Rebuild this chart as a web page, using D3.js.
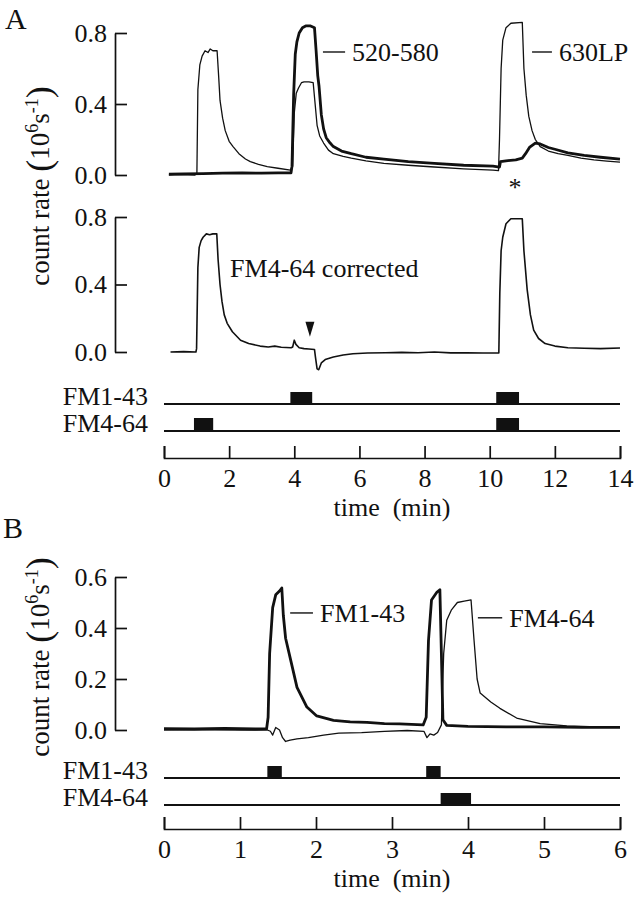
<!DOCTYPE html>
<html>
<head>
<meta charset="utf-8">
<script src="https://cdn.jsdelivr.net/npm/d3@7"></script>
<style>
  body { margin: 0; background: #fff; }
  text { font-family: "Liberation Serif", "Times New Roman", serif; fill: #111; }
</style>
</head>
<body>
<svg id="chart" width="635" height="899"></svg>
<script>
// ---- data (time in min, count rate in 10^6 s^-1) ----

// Panel A, top: 520-580 channel (thick) and 630LP channel (thin)
const a520 = [
  [0.15,0.005],[0.6,0.006],[1.2,0.008],[1.8,0.01],[2.4,0.012],[3.0,0.01],[3.5,0.012],[3.9,0.012],
  [3.93,0.05],[3.98,0.45],[4.03,0.68],[4.08,0.75],[4.15,0.8],[4.25,0.83],[4.35,0.84],[4.5,0.84],
  [4.62,0.83],[4.67,0.7],[4.72,0.56],[4.76,0.5],[4.83,0.34],[4.9,0.26],[4.98,0.21],[5.1,0.18],
  [5.2,0.16],[5.45,0.135],[5.75,0.12],[6.2,0.1],[6.75,0.09],[7.5,0.075],[8.3,0.065],[9.2,0.055],
  [10.1,0.05],[10.3,0.045],[10.33,0.075],[10.5,0.08],[10.8,0.085],[11.0,0.095],[11.1,0.12],
  [11.22,0.155],[11.4,0.18],[11.55,0.175],[11.8,0.155],[12.0,0.145],[12.4,0.125],[12.9,0.11],
  [13.4,0.1],[14.0,0.09]
];
const a630 = [
  [0.15,0.0],[0.5,0.002],[0.95,0.0],[1.01,0.01],[1.04,0.48],[1.1,0.62],[1.17,0.67],[1.26,0.70],
  [1.35,0.69],[1.42,0.71],[1.5,0.70],[1.63,0.70],[1.68,0.55],[1.72,0.42],[1.8,0.32],[1.88,0.25],
  [2.0,0.19],[2.12,0.16],[2.3,0.12],[2.5,0.09],[2.65,0.075],[2.9,0.06],[3.17,0.047],[3.5,0.038],
  [3.88,0.028],[3.95,0.05],[4.0,0.35],[4.06,0.46],[4.13,0.49],[4.22,0.52],[4.3,0.525],[4.45,0.525],
  [4.58,0.52],[4.63,0.42],[4.7,0.28],[4.78,0.22],[4.9,0.18],[5.05,0.14],[5.2,0.12],[5.5,0.105],
  [5.75,0.095],[6.2,0.08],[6.75,0.065],[7.5,0.055],[8.3,0.045],[9.2,0.035],[10.1,0.028],
  [10.27,0.025],[10.3,0.2],[10.35,0.6],[10.4,0.76],[10.5,0.83],[10.65,0.855],[11.0,0.86],
  [11.05,0.6],[11.12,0.45],[11.2,0.33],[11.3,0.25],[11.4,0.2],[11.55,0.16],[11.8,0.135],
  [12.1,0.12],[12.4,0.11],[12.8,0.095],[13.2,0.085],[13.6,0.078],[14.0,0.072]
];

// Panel A, middle: FM4-64 corrected
const aCorrected = [
  [0.2,0.0],[0.6,0.002],[0.98,0.0],[1.0,0.02],[1.04,0.5],[1.08,0.62],[1.14,0.66],[1.2,0.68],
  [1.3,0.70],[1.4,0.695],[1.5,0.7],[1.62,0.7],[1.66,0.55],[1.72,0.4],[1.78,0.3],[1.85,0.22],
  [1.94,0.17],[2.1,0.12],[2.35,0.07],[2.6,0.05],[2.95,0.035],[3.2,0.03],[3.4,0.035],[3.6,0.028],
  [3.9,0.025],[3.95,0.03],[4.0,0.07],[4.05,0.045],[4.15,0.025],[4.3,0.02],[4.45,0.018],[4.62,0.015],
  [4.65,-0.03],[4.7,-0.1],[4.75,-0.105],[4.83,-0.065],[4.95,-0.045],[5.2,-0.03],[5.5,-0.018],
  [5.8,-0.01],[6.25,-0.006],[6.8,-0.004],[7.3,-0.002],[7.8,-0.004],[8.3,0.0],[8.8,-0.005],
  [9.3,-0.004],[9.8,-0.006],[10.28,-0.006],[10.31,0.35],[10.35,0.6],[10.4,0.68],[10.5,0.76],
  [10.65,0.79],[11.0,0.79],[11.05,0.6],[11.15,0.37],[11.25,0.22],[11.35,0.13],[11.5,0.08],
  [11.7,0.05],[12.0,0.035],[12.4,0.025],[12.9,0.022],[13.4,0.02],[14.0,0.024]
];

// Panel A dye application periods [start, end]
const aPulse143 = [[3.88, 4.55], [10.2, 10.9]];
const aPulse464 = [[0.92, 1.51], [10.2, 10.9]];

// Panel B: FM1-43 (thick) and FM4-64 (thin)
const b143 = [
  [0.0,0.005],[0.4,0.004],[0.8,0.006],[1.2,0.004],[1.35,0.005],[1.37,0.05],[1.39,0.3],[1.43,0.48],
  [1.47,0.53],[1.52,0.545],[1.55,0.557],[1.57,0.45],[1.6,0.36],[1.67,0.27],[1.75,0.167],[1.88,0.09],
  [2.01,0.055],[2.23,0.038],[2.45,0.032],[2.67,0.03],[2.9,0.025],[3.1,0.024],[3.41,0.02],[3.45,0.05],
  [3.48,0.35],[3.52,0.51],[3.59,0.54],[3.63,0.55],[3.65,0.3],[3.67,0.04],[3.72,0.018],[4.0,0.014],
  [4.5,0.012],[5.0,0.012],[5.5,0.01],[6.0,0.01]
];
const b464 = [
  [0.0,0.0],[0.5,0.001],[1.0,0.0],[1.36,0.0],[1.4,-0.005],[1.43,-0.02],[1.47,0.01],[1.52,0.0],
  [1.56,-0.03],[1.6,-0.045],[1.66,-0.04],[1.75,-0.035],[1.9,-0.03],[2.1,-0.02],[2.3,-0.012],
  [2.6,-0.01],[2.9,-0.005],[3.2,-0.002],[3.42,-0.005],[3.46,-0.03],[3.5,-0.015],[3.55,-0.02],
  [3.6,-0.01],[3.65,0.02],[3.68,0.3],[3.72,0.43],[3.78,0.47],[3.86,0.5],[3.95,0.505],[4.04,0.51],
  [4.08,0.35],[4.12,0.2],[4.16,0.145],[4.3,0.11],[4.42,0.085],[4.64,0.047],[4.95,0.025],
  [5.3,0.016],[5.7,0.012],[6.0,0.01]
];
const bPulse143 = [[1.36, 1.55], [3.45, 3.64]];
const bPulse464 = [[3.64, 4.04]];

// tick values
const aXTicks = [0, 2, 4, 6, 8, 10, 12, 14];
const bXTicks = [0, 1, 2, 3, 4, 5, 6];
const aYTicks = [0, 0.4, 0.8];
const bYTicks = [0, 0.2, 0.4, 0.6];

// ---- drawing ----
const svg = d3.select('#chart');
const axisX0 = 115;      // x position of the vertical axes
const plotL = 164, plotR = 620;

const xA = d3.scaleLinear().domain([0, 14]).range([plotL, plotR]);
const xB = d3.scaleLinear().domain([0, 6]).range([plotL, plotR]);
const yATop = d3.scaleLinear().domain([0, 0.8]).range([175, 33]);
const yAMid = d3.scaleLinear().domain([0, 0.8]).range([352, 217]);
const yB = d3.scaleLinear().domain([0, 0.6]).range([730, 577]);

function styleAxis(g, size) {
  g.attr('font-family', null).attr('font-size', null);
  g.selectAll('path, line').attr('stroke', '#111').attr('stroke-width', 1.7);
  g.selectAll('text').style('font-size', size + 'px');
}

function yAxis(y, ticks) {
  const g = svg.append('g')
      .attr('transform', `translate(${axisX0},0)`)
      .call(d3.axisLeft(y)
        .tickValues(ticks)
        .tickSizeInner(-12)
        .tickSizeOuter(0)
        .tickPadding(8)
        .tickFormat(d3.format('.1f')));
  styleAxis(g, 26);
}

function xAxis(x, ticks, yPos, titleY) {
  const g = svg.append('g')
      .attr('transform', `translate(0,${yPos})`)
      .call(d3.axisBottom(x)
        .tickValues(ticks)
        .tickSizeInner(-12)
        .tickSizeOuter(-12)
        .tickPadding(11)
        .tickFormat(d3.format('d')));
  styleAxis(g, 26);
  svg.append('text')
      .attr('x', (plotL + plotR) / 2)
      .attr('y', titleY)
      .attr('text-anchor', 'middle')
      .style('font-size', '26px')
      .attr('xml:space', 'preserve')
      .text('time  (min)');
}

function trace(x, y, data, width) {
  svg.append('path')
      .datum(data)
      .attr('fill', 'none')
      .attr('stroke', '#111')
      .attr('stroke-width', width)
      .attr('stroke-linejoin', 'round')
      .attr('d', d3.line().x(d => x(d[0])).y(d => y(d[1])));
}

// stimulus row: base line plus filled blocks
function pulseRow(x, pulses, lineY, barH, label) {
  const [d0, d1] = x.domain();
  svg.append('line')
      .attr('x1', x(d0)).attr('x2', x(d1))
      .attr('y1', lineY).attr('y2', lineY)
      .attr('stroke', '#111').attr('stroke-width', 2);
  svg.selectAll(null)
      .data(pulses)
    .enter().append('rect')
      .attr('x', d => x(d[0]))
      .attr('width', d => x(d[1]) - x(d[0]))
      .attr('y', lineY - barH)
      .attr('height', barH)
      .attr('fill', '#111');
  svg.append('text')
      .attr('x', 148)
      .attr('y', lineY + 1)
      .attr('text-anchor', 'end')
      .style('font-size', '26px')
      .text(label);
}

function leaderLabel(x1, x2, y, text) {
  svg.append('line')
      .attr('x1', x1).attr('x2', x2).attr('y1', y).attr('y2', y)
      .attr('stroke', '#111').attr('stroke-width', 1.4);
  svg.append('text')
      .attr('x', x2 + 7)
      .attr('y', y + 9)
      .style('font-size', '26px')
      .text(text);
}

function yTitle(cx, cy) {
  const t = svg.append('text')
      .attr('transform', `translate(${cx},${cy}) rotate(-90)`)
      .attr('text-anchor', 'middle')
      .style('font-size', '27px');
  t.append('tspan').text('count rate ');
  t.append('tspan').style('font-size', '36px').attr('dy', 2).text('(');
  t.append('tspan').attr('dy', -2).text('10');
  t.append('tspan').style('font-size', '18px').attr('dy', -11).text('6');
  t.append('tspan').attr('dy', 11).text('s');
  t.append('tspan').style('font-size', '18px').attr('dy', -11).text('-1');
  t.append('tspan').style('font-size', '36px').attr('dy', 13).text(')');
}

function panelLetter(x, y, s) {
  svg.append('text').attr('x', x).attr('y', y).style('font-size', '30px').text(s);
}

// ---------- Panel A ----------
panelLetter(5, 29, 'A');
yAxis(yATop, aYTicks);
yAxis(yAMid, aYTicks);
trace(xA, yATop, a630, 1.3);
trace(xA, yATop, a520, 2.8);
trace(xA, yAMid, aCorrected, 1.6);

leaderLabel(xA(4.88), xA(5.56), yATop(0.693), '520-580');
leaderLabel(xA(11.3), xA(11.91), yATop(0.693), '630LP');
svg.append('text')
    .attr('x', xA(10.78)).attr('y', 196)
    .attr('text-anchor', 'middle')
    .style('font-size', '26px')
    .text('*');

svg.append('text')
    .attr('x', xA(2.03)).attr('y', yAMid(0.445))
    .style('font-size', '26px')
    .text('FM4-64 corrected');

// arrowhead marking the FM1-43 wash
const ax = xA(4.48), ay = yAMid(0.09);
svg.append('path')
    .attr('d', `M${ax - 4.5},${ay - 15}L${ax + 4.5},${ay - 15}L${ax},${ay}Z`)
    .attr('fill', '#111');

pulseRow(xA, aPulse143, 404, 12, 'FM1-43');
pulseRow(xA, aPulse464, 431, 13, 'FM4-64');
xAxis(xA, aXTicks, 458, 516);
yTitle(49, 186);

// ---------- Panel B ----------
panelLetter(3, 538, 'B');
yAxis(yB, bYTicks);
trace(xB, yB, b464, 1.3);
trace(xB, yB, b143, 2.8);
leaderLabel(xB(1.66), xB(1.96), yB(0.459), 'FM1-43');
leaderLabel(xB(4.13), xB(4.45), yB(0.44), 'FM4-64');

pulseRow(xB, bPulse143, 778, 12, 'FM1-43');
pulseRow(xB, bPulse464, 805, 12, 'FM4-64');
xAxis(xB, bXTicks, 829, 887);
yTitle(49, 657);
</script>
</body>
</html>
